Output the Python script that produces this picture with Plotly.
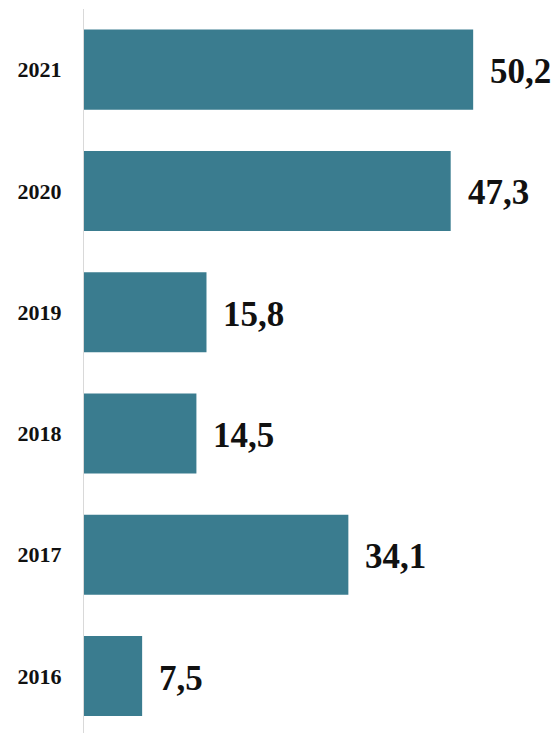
import plotly.graph_objects as go

years = ["2016", "2017", "2018", "2019", "2020", "2021"]
values = [7.5, 34.1, 14.5, 15.8, 47.3, 50.2]
labels = ["7,5", "34,1", "14,5", "15,8", "47,3", "50,2"]

fig = go.Figure()
fig.add_trace(go.Bar(
    y=years, x=values, orientation="h",
    marker=dict(color="#3a7c8f", line=dict(width=0)),
    hoverinfo="skip",
))

for i, (v, t) in enumerate(zip(values, labels)):
    fig.add_annotation(
        x=v, y=i, text="<b>" + t + "</b>", showarrow=False,
        xanchor="left", yanchor="middle", xshift=15, yshift=-2,
        font=dict(family="Liberation Serif", size=35, color="#111111"),
    )

fig.update_layout(
    width=560, height=733,
    margin=dict(l=84, r=0, t=9, b=0),
    paper_bgcolor="white", plot_bgcolor="white",
    bargap=0.34,
    showlegend=False,
    xaxis=dict(range=[0, 61.4], visible=False),
    yaxis=dict(
        type="category", categoryorder="array", categoryarray=years,
        range=[-0.47, 5.5],
        showline=True, linecolor="#d9d9d9", linewidth=1,
        showgrid=False, zeroline=False, ticks="",
        ticklabelstandoff=17,
        tickfont=dict(family="Liberation Serif", size=22, color="#111111"),
        tickprefix="<b>", ticksuffix="</b>",
    ),
)

fig.write_html("out.html")
